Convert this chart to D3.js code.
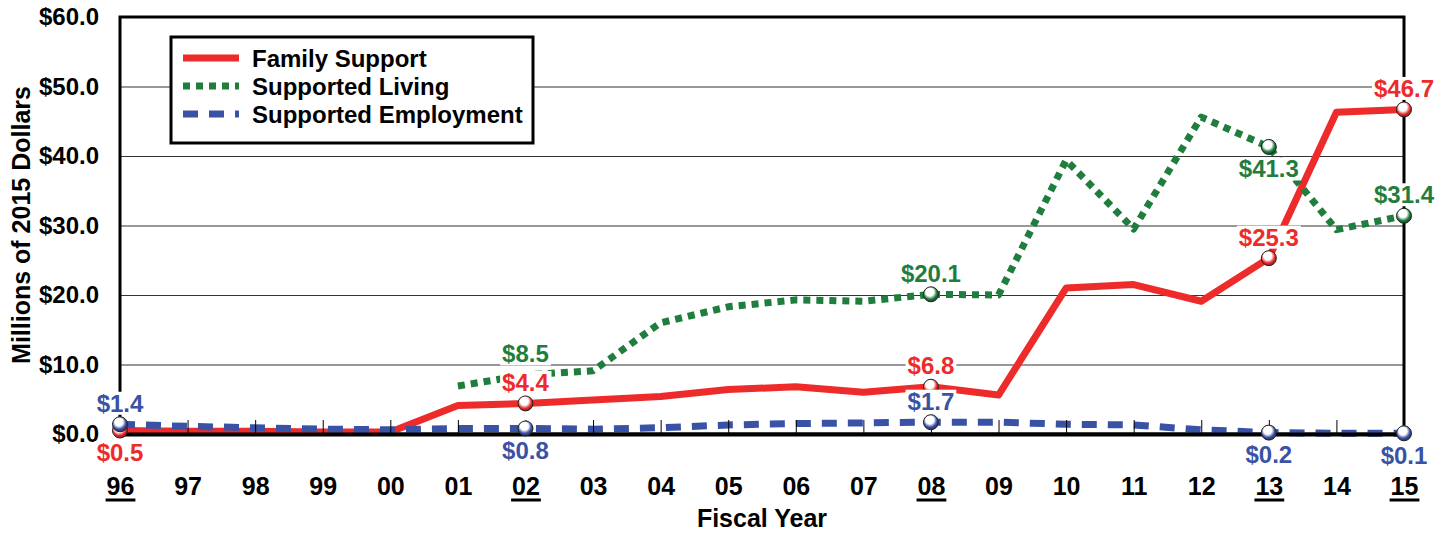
<!DOCTYPE html>
<html>
<head>
<meta charset="utf-8">
<script src="https://cdn.jsdelivr.net/npm/d3@7"></script>
<style>
  body { margin: 0; background: #fff; }
  svg { display: block; font-family: "Liberation Sans", Arial, sans-serif; font-weight: bold; }
</style>
</head>
<body>
<svg id="chart" width="1448" height="533"></svg>
<script>
// fiscal years on the x axis
const years = ["96","97","98","99","00","01","02","03","04","05","06","07","08","09","10","11","12","13","14","15"];
const underlinedYears = ["96","02","08","13","15"];
const yTicks = [0, 10, 20, 30, 40, 50, 60];

// millions of 2015 dollars
const familySupport = [0.5, 0.4, 0.4, 0.3, 0.3, 4.1, 4.4, 4.9, 5.4, 6.4, 6.8, 6.0, 6.8, 5.6, 21.0, 21.5, 19.1, 25.3, 46.3, 46.7];
const supportedLiving = [null, null, null, null, null, 6.9, 8.5, 9.1, 16.0, 18.3, 19.3, 19.1, 20.1, 20.0, 39.4, 29.5, 45.6, 41.3, 29.4, 31.4];
const supportedEmployment = [1.4, 1.1, 0.9, 0.7, 0.6, 0.8, 0.8, 0.7, 0.9, 1.3, 1.5, 1.6, 1.7, 1.7, 1.4, 1.3, 0.6, 0.2, 0.1, 0.1];

// which points get a value label (and a ball marker)
const familyLabels = [["96", "below"], ["02", "above"], ["08", "above"], ["13", "above"], ["15", "above"]];
const livingLabels = [["02", "above"], ["08", "above"], ["13", "below"], ["15", "above"]];
const employmentLabels = [["96", "above"], ["02", "below"], ["08", "above"], ["13", "below"], ["15", "below"]];
const noMarker = ["Supported Living:02"];

const series = [
  { name: "Family Support", values: familySupport, color: "#ee2b2b", dash: null, labels: familyLabels },
  { name: "Supported Living", values: supportedLiving, color: "#1f7d3d", dash: "7,6", labels: livingLabels },
  { name: "Supported Employment", values: supportedEmployment, color: "#3a52a5", dash: "15,11", labels: employmentLabels }
];

const plotLeft = 120, plotRight = 1404, plotTop = 17, plotBottom = 434;

const svg = d3.select("#chart");
svg.append("rect").attr("width", 1448).attr("height", 533).attr("fill", "#fff");

const x = d3.scalePoint().domain(years).range([plotLeft, plotRight]);
const y = d3.scaleLinear().domain([0, 60]).range([plotBottom, plotTop]);

// gradients for the little ball markers
const defs = svg.append("defs");
series.forEach((s, i) => {
  const g = defs.append("radialGradient").attr("id", "ball" + i)
    .attr("cx", "45%").attr("cy", "40%").attr("r", "60%")
    .attr("fx", "40%").attr("fy", "30%");
  g.append("stop").attr("offset", "0%").attr("stop-color", "#fff");
  g.append("stop").attr("offset", "45%").attr("stop-color", "#fff");
  g.append("stop").attr("offset", "75%").attr("stop-color", s.color);
  g.append("stop").attr("offset", "100%").attr("stop-color", d3.color(s.color).darker(1.5));
});

// y axis + gridlines
const yAxis = svg.append("g")
  .attr("transform", `translate(${plotLeft},0)`)
  .call(d3.axisLeft(y).tickValues(yTicks).tickSize(-(plotRight - plotLeft)).tickPadding(21)
    .tickFormat(d => "$" + d.toFixed(1)));
yAxis.select(".domain").remove();
yAxis.selectAll("line").attr("stroke", "#333").attr("stroke-width", 1.2);
yAxis.selectAll("text").attr("font-size", 24).attr("fill", "#000").attr("font-family", null);

// frame
svg.append("rect")
  .attr("x", plotLeft).attr("y", plotTop).attr("width", plotRight - plotLeft).attr("height", plotBottom - plotTop)
  .attr("fill", "none").attr("stroke", "#000").attr("stroke-width", 3);

// lines
const line = d3.line()
  .defined(d => d != null)
  .x((d, i) => x(years[i]))
  .y(d => y(d));

series.forEach(s => {
  svg.append("path")
    .datum(s.values)
    .attr("d", line)
    .attr("fill", "none")
    .attr("stroke", s.color)
    .attr("stroke-width", 7)
    .attr("stroke-linejoin", "round")
    .attr("stroke-dasharray", s.dash);
});

// x axis
const xAxis = svg.append("g")
  .attr("transform", `translate(0,${plotBottom})`)
  .call(d3.axisBottom(x).tickSizeInner(-14).tickSizeOuter(0).tickPadding(43));
xAxis.select(".domain").attr("stroke", "#000").attr("stroke-width", 4);
xAxis.selectAll(".tick line").attr("stroke", "#000").attr("stroke-width", 1);
xAxis.selectAll("text").attr("font-size", 25).attr("fill", "#000").attr("font-family", null);
xAxis.selectAll(".tick").filter(d => underlinedYears.includes(d)).each(function () {
  const w = this.querySelector("text").getComputedTextLength();
  d3.select(this).append("line")
    .attr("x1", -w / 2 - 1).attr("x2", w / 2 + 1)
    .attr("y1", 66).attr("y2", 66)
    .attr("stroke", "#000").attr("stroke-width", 3);
});

// markers
series.forEach((s, i) => {
  s.labels.forEach(([yr]) => {
    if (noMarker.includes(s.name + ":" + yr)) return;
    const v = s.values[years.indexOf(yr)];
    svg.append("circle")
      .attr("cx", x(yr)).attr("cy", y(v)).attr("r", 7.5)
      .attr("fill", `url(#ball${i})`)
      .attr("stroke", "#222").attr("stroke-width", 1);
  });
});

// value labels with white boxes
series.forEach(s => {
  s.labels.forEach(([yr, side]) => {
    const v = s.values[years.indexOf(yr)];
    const g = svg.append("g");
    const t = g.append("text")
      .attr("x", x(yr))
      .attr("y", y(v) + (side === "above" ? -21 : 22))
      .attr("text-anchor", "middle")
      .attr("dominant-baseline", "central")
      .attr("font-size", 24)
      .attr("fill", s.color)
      .text("$" + v.toFixed(1));
    const b = t.node().getBBox();
    g.insert("rect", "text")
      .attr("x", b.x - 2).attr("y", b.y + 2)
      .attr("width", b.width + 4).attr("height", b.height - 4)
      .attr("fill", "#fff");
  });
});

// legend
const legend = svg.append("g");
legend.append("rect")
  .attr("x", 171).attr("y", 37).attr("width", 362).attr("height", 106)
  .attr("fill", "#fff").attr("stroke", "#000").attr("stroke-width", 3);
series.forEach((s, i) => {
  const ly = 58 + i * 28;
  legend.append("line")
    .attr("x1", 183).attr("x2", 239).attr("y1", ly).attr("y2", ly)
    .attr("stroke", s.color).attr("stroke-width", 7)
    .attr("stroke-dasharray", s.dash);
  legend.append("text")
    .attr("x", 252).attr("y", ly)
    .attr("dominant-baseline", "central")
    .attr("font-size", 24)
    .attr("fill", "#000")
    .text(s.name);
});

// axis titles
svg.append("text")
  .attr("transform", "translate(30,225) rotate(-90)")
  .attr("text-anchor", "middle")
  .attr("font-size", 25)
  .text("Millions of 2015 Dollars");

svg.append("text")
  .attr("x", 762).attr("y", 527)
  .attr("text-anchor", "middle")
  .attr("font-size", 25)
  .text("Fiscal Year");
</script>
</body>
</html>
